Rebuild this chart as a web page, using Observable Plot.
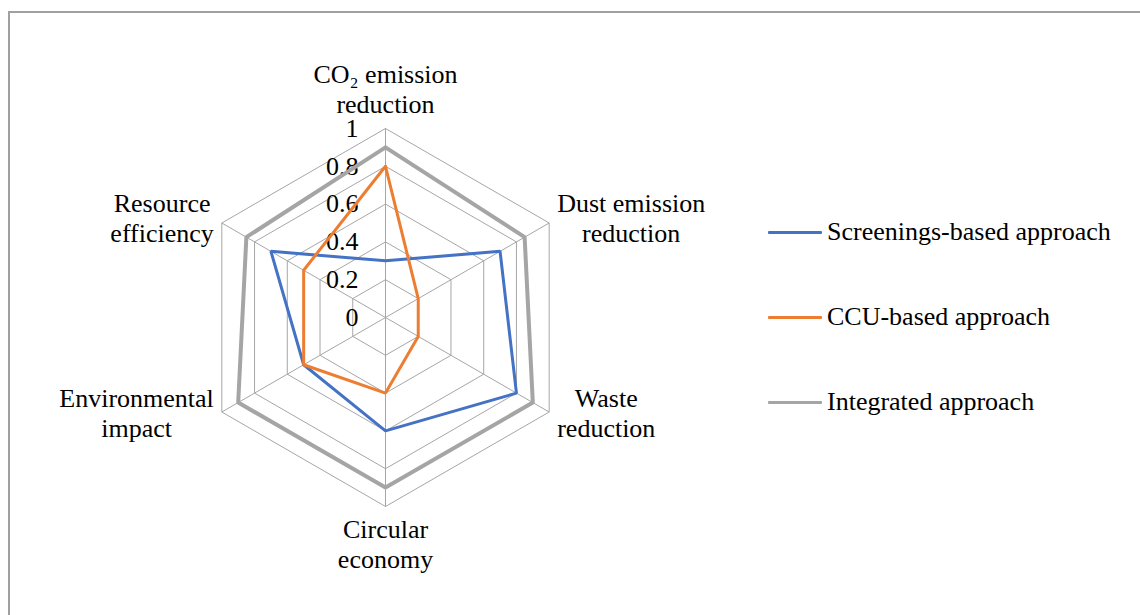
<!DOCTYPE html>
<html>
<head>
<meta charset="utf-8">
<script src="https://cdn.jsdelivr.net/npm/d3@7"></script>
<script src="https://cdn.jsdelivr.net/npm/@observablehq/plot@0.6"></script>
<style>
  html, body { margin: 0; padding: 0; background: #fff; overflow: hidden; }
  #wrap { position: relative; width: 1140px; height: 615px; overflow: hidden; font-family: 'Liberation Serif', 'Times New Roman', serif; }
  #frame { position: absolute; left: 8px; top: 11px; width: 1200px; height: 700px; border: 2px solid #a0a0a0; box-sizing: border-box; }
  #chart { position: absolute; left: 0; top: 0; }
  #legend { position: absolute; left: 768px; top: 0; }
  .item { position: absolute; left: 0; display: flex; align-items: center; white-space: nowrap; font-size: 26px; color: #000; font-family: 'Liberation Serif', 'Times New Roman', serif; }
  .item .sw { width: 54px; height: 3px; margin-right: 5px; border-radius: 1px; }
</style>
</head>
<body>
<div id="wrap">
  <div id="frame"></div>
  <div id="chart"></div>
  <div id="legend"></div>
</div>
<script>
// ---- data ----
const categories = ["CO₂ emission\nreduction", "Dust emission\nreduction", "Waste\nreduction", "Circular\neconomy", "Environmental\nimpact", "Resource\nefficiency"];
const seriesNames = ["Screenings-based approach", "CCU-based approach", "Integrated approach"];
const screenings = [0.3, 0.7, 0.8, 0.6, 0.5, 0.7];
const ccu = [0.8, 0.2, 0.2, 0.4, 0.5, 0.5];
const integrated = [0.9, 0.85, 0.9, 0.9, 0.9, 0.85];
const tickValues = [0, 0.2, 0.4, 0.6, 0.8, 1];
const seriesColors = ["#4472c4", "#ed7d31", "#a5a5a5"];

// ---- layout ----
const W = 1140, H = 615, R = 189, CX = 385, CY = 317;
const FONT = "'Liberation Serif', 'Times New Roman', serif";
const FS = 26;
const n = categories.length;
const ang = i => (i * 2 * Math.PI) / n;
const px = (i, r) => r * Math.sin(ang(i));
const py = (i, r) => r * Math.cos(ang(i));

const rings = [];
tickValues.filter(t => t > 0).forEach(t => {
  for (let k = 0; k <= n; k++) rings.push({t, x: px(k % n, t), y: py(k % n, t)});
});
const spokes = categories.map((c, i) => ({i}));

const polygon = vals => vals.concat([vals[0]]).map((v, k) => ({x: px(k % n, v), y: py(k % n, v)}));
const allSeries = [screenings, ccu, integrated];

// label placement measured from text width
const ctx = document.createElement("canvas").getContext("2d");
ctx.font = `${FS}px ${FONT}`;
const LHF = 1.15, LH = LHF * FS, GAP = 8;
const labelRows = categories.map((c, i) => {
  const lines = c.split("\n");
  const w = d3.max(lines, l => ctx.measureText(l).width);
  const s = Math.sin(ang(i)), co = Math.cos(ang(i));
  let x = px(i, 1), y = py(i, 1);
  if (Math.abs(s) < 1e-6) {
    y += Math.sign(co) * ((co > 0 ? GAP + 2 : GAP - 1) + (lines.length * LH) / 2) / R;
  } else {
    x += Math.sign(s) * (GAP + w / 2) / R;
    if (co > 0) y += 6 / R;
  }
  return {text: c, x, y};
});

const chart = Plot.plot({
  width: W, height: H,
  marginTop: 0, marginRight: 0, marginBottom: 0, marginLeft: 0,
  x: {domain: [-CX / R, (W - CX) / R], range: [0, W], axis: null},
  y: {domain: [-(H - CY) / R, CY / R], range: [H, 0], axis: null},
  style: {fontFamily: FONT, background: "transparent"},
  marks: [
    Plot.line(rings, {x: "x", y: "y", z: "t", stroke: "#a6a6a6", strokeWidth: 1}),
    Plot.link(spokes, {x1: () => 0, y1: () => 0, x2: d => px(d.i, 1), y2: d => py(d.i, 1), stroke: "#a6a6a6", strokeWidth: 1}),
    Plot.text(tickValues, {x: () => 0, y: d => d, text: d => String(d), textAnchor: "end", dx: -27, fontSize: FS, fontFamily: FONT, fill: "#000"}),
    ...allSeries.map((vals, s) => Plot.line(polygon(vals), {x: "x", y: "y", stroke: seriesColors[s], strokeWidth: s === 2 ? 4 : 3, strokeLinejoin: "miter"})),
    Plot.text(labelRows, {x: "x", y: "y", text: "text", textAnchor: "middle", lineAnchor: "middle", lineHeight: LHF, fontSize: FS, fontFamily: FONT, fill: "#000"})
  ]
});
document.getElementById("chart").appendChild(chart);

// legend
const legendY = [232, 317, 402];
const leg = document.getElementById("legend");
seriesNames.forEach((name, s) => {
  const it = document.createElement("div");
  it.className = "item";
  it.style.top = (legendY[s] - 16) + "px";
  it.style.height = "32px";
  const sw = document.createElement("span");
  sw.className = "sw";
  sw.style.background = seriesColors[s];
  const tx = document.createElement("span");
  tx.textContent = name;
  it.appendChild(sw); it.appendChild(tx);
  leg.appendChild(it);
});
</script>
</body>
</html>
